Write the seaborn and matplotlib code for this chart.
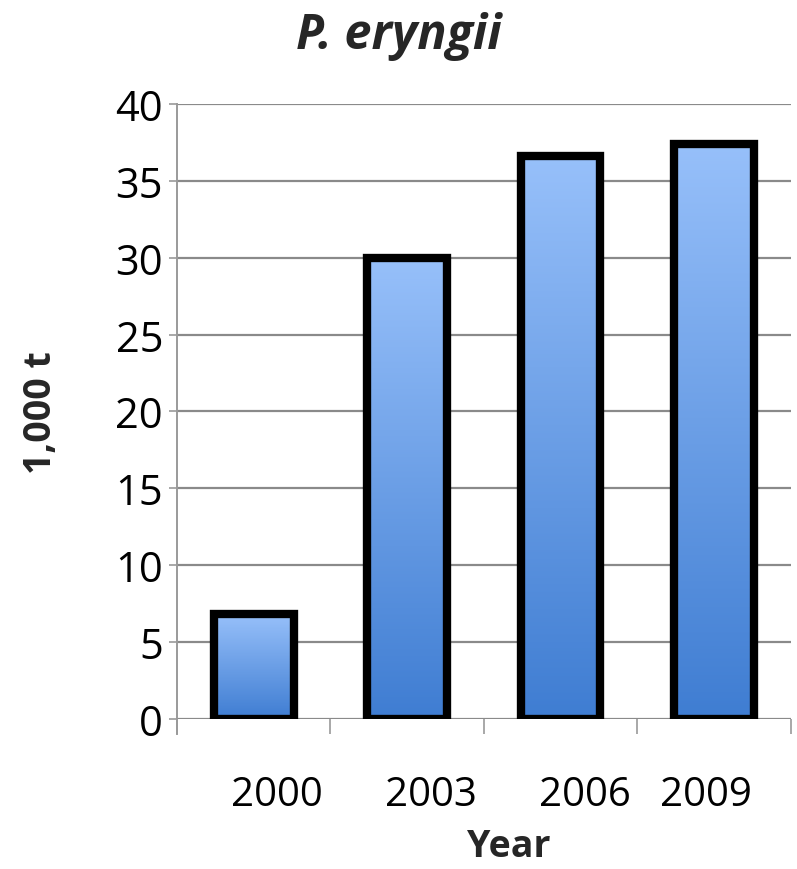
"""
Bar chart of P. eryngii production.
"""
import numpy as np
import pandas
import seaborn as sns
import matplotlib
matplotlib.use('Agg')
from matplotlib import pyplot as plt
from matplotlib.colors import LinearSegmentedColormap
from matplotlib.transforms import ScaledTranslation

years = ['2000', '2003', '2006', '2009']
production = [6.8, 30.0, 36.6, 37.4]
yticks = [0, 5, 10, 15, 20, 25, 30, 35, 40]

sns.set_style("white")
plt.rcParams['font.family'] = ['Open Sans', 'DejaVu Sans']

df = pandas.DataFrame({'year': years, 'production': production})

fig = plt.figure(figsize=(7.97, 8.7), dpi=100)
ax = fig.add_axes([0.222, 0.1724, 0.77, 0.707])

sns.barplot(data=df, x='year', y='production', ax=ax, width=0.52,
            color='#6a9be6', edgecolor='black', linewidth=6, zorder=3)

# gradient fill inside each bar (light top, darker bottom)
cmap = LinearSegmentedColormap.from_list('bluegrad', ['#3f7dd2', '#97c0fa'])
grad = np.linspace(0, 1, 256).reshape(-1, 1)
for patch in ax.patches:
    x0, y0 = patch.get_x(), patch.get_y()
    w, h = patch.get_width(), patch.get_height()
    im = ax.imshow(grad, extent=[x0, x0 + w, y0, y0 + h], origin='lower',
                   cmap=cmap, aspect='auto', zorder=2.5)
    im.set_clip_path(patch)
    patch.set_facecolor('none')
ax.set_ylim(0, 40)
ax.set_xlim(-0.5, len(years) - 0.5)

# grid and spines
ax.set_yticks(yticks)
ax.yaxis.grid(True, color='#8a8a8a', linewidth=1.6, zorder=0)
ax.set_axisbelow(True)
for s in ['top', 'right', 'bottom']:
    ax.spines[s].set_visible(False)
ax.spines['left'].set_color('#9a9a9a')
ax.spines['left'].set_linewidth(1.4)
ax.spines['left'].set_bounds(-1, 40)
ax.tick_params(axis='y', labelsize=30, length=6, color='#9a9a9a', width=1.2,
               pad=4, left=True, labelcolor='black')

# category boundary ticks
ax.set_xticks(np.arange(len(years) + 1) - 0.5, minor=True)
ax.tick_params(axis='x', which='minor', length=11, color='#9a9a9a', width=1.2,
               bottom=True)
ax.tick_params(axis='x', which='major', length=0, labelsize=29, pad=40,
               labelcolor='black')

offsets = [23, 24, 24, -8]
for lab, dx in zip(ax.get_xticklabels(), offsets):
    lab.set_transform(lab.get_transform() + ScaledTranslation(dx / 100, 0, fig.dpi_scale_trans))

ax.set_xlabel('Year', fontsize=27, fontweight='bold')
ax.xaxis.set_label_coords(0.54, -0.175)
ax.set_ylabel('1,000 t', fontsize=27, fontweight='bold', labelpad=40)

fig.suptitle('P. eryngii', fontsize=35, fontweight='bold', fontstyle='italic',
             y=0.958, va='center')

fig.savefig('out.png', dpi=100)
